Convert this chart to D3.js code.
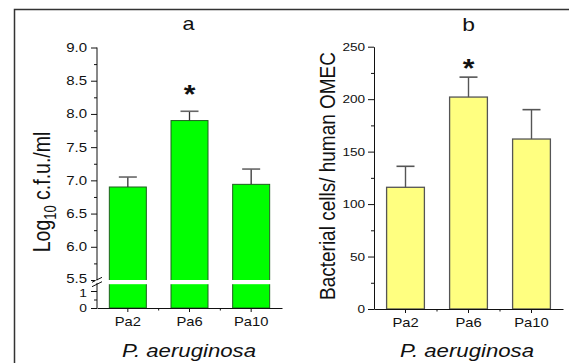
<!DOCTYPE html>
<html><head><meta charset="utf-8">
<script src="https://cdn.jsdelivr.net/npm/d3@7"></script>
<style>
html,body{margin:0;padding:0;background:#fff;}
svg{display:block;font-family:"Liberation Sans",Arial,sans-serif;}
</style></head><body>
<svg id="c" width="569" height="363"></svg>
<script>
const categories = ["Pa2", "Pa6", "Pa10"];
const valuesA = [6.90, 7.90, 6.94];
const errorsA = [0.15, 0.14, 0.23];
const valuesB = [116, 202, 162];
const errorsB = [20, 19, 28];
const significantA = [false, true, false];
const significantB = [false, true, false];
const ticksAUpper = [5.5, 6.0, 6.5, 7.0, 7.5, 8.0, 8.5, 9.0];
const ticksALower = [0, 1];
const ticksB = [0, 50, 100, 150, 200, 250];
const panelTitles = ["a", "b"];
const yTitleB = "Bacterial cells/ human OMEC";
const xTitle = "P. aeruginosa";

const SX = 1.2; // horizontal stretch of the original picture's text
const svg = d3.select("#c");

// frame
svg.append("path").attr("d", "M14.5,363 V9.5 H569").attr("fill", "none")
  .attr("stroke", "#333").attr("stroke-width", 1.5);

function stretchText(sel, fs) {
  sel.each(function () {
    const t = d3.select(this);
    const x = +t.attr("x") || 0;
    t.attr("x", x / SX).attr("transform", `scale(${SX},1)`);
  });
  sel.attr("font-size", fs).attr("font-family", "'Liberation Sans',Arial,sans-serif").attr("fill", "#111");
}
function label(g, x, y, txt, fs, opts = {}) {
  const t = g.append("text").attr("transform", `translate(${x},${y}) scale(${SX},1)` + (opts.rot ? " rotate(-90)" : ""))
    .attr("text-anchor", "middle").attr("font-size", fs).attr("fill", "#111");
  if (opts.italic) t.attr("font-style", "italic");
  if (opts.bold) t.attr("font-weight", "bold");
  t.text(txt);
  return t;
}

// ---------- Panel a ----------
const gA = svg.append("g");
const xA = d3.scaleBand().domain(categories).range([97, 282]).paddingInner(0.4).paddingOuter(0.2);
const yU = d3.scaleLinear().domain([5.5, 9.0]).range([280, 47.5]);
const yL = d3.scaleLinear().domain([0, 1.4]).range([308, 284.2]);
const yA = v => v >= 5.5 ? yU(v) : yL(v);

gA.selectAll("rect.bar").data(categories).join("rect")
  .attr("x", d => xA(d)).attr("width", xA.bandwidth())
  .attr("y", (d, i) => yA(valuesA[i])).attr("height", (d, i) => yA(0) - yA(valuesA[i]))
  .attr("fill", "#00ff00").attr("stroke", "#1f5f1f").attr("stroke-width", 1);

// white break band across bars
gA.append("rect").attr("x", 99).attr("width", 183).attr("y", yU(5.5)).attr("height", yL(1.4) - yU(5.5))
  .attr("fill", "#fff");

// error bars
categories.forEach((c, i) => {
  const cx = xA(c) + xA.bandwidth() / 2;
  const top = yA(valuesA[i] + errorsA[i]);
  gA.append("line").attr("x1", cx).attr("x2", cx).attr("y1", yA(valuesA[i])).attr("y2", top).attr("stroke", "#333").attr("stroke-width", 1.3);
  gA.append("line").attr("x1", cx - 9).attr("x2", cx + 9).attr("y1", top).attr("y2", top).attr("stroke", "#666").attr("stroke-width", 1.6);
  if (significantA[i]) label(gA, cx, top - 8, "*", 25, { bold: true });
});

// y axes (upper and lower segments)
const majA = gA.append("g").attr("transform", "translate(97,0)")
  .call(d3.axisLeft(yU).tickValues(ticksAUpper).tickFormat(d3.format(".1f")).tickSize(6).tickSizeOuter(0));
const minorU = d3.range(5.75, 9.0, 0.5);
gA.append("g").attr("transform", "translate(97,0)")
  .call(d3.axisLeft(yU).tickValues(minorU).tickFormat("").tickSize(3).tickSizeOuter(0))
  .select(".domain").remove();
const lowA = gA.append("g").attr("transform", "translate(97,0)")
  .call(d3.axisLeft(yL).tickValues(ticksALower).tickFormat(d3.format("d")).tickSize(6).tickSizeOuter(0));
gA.append("g").attr("transform", "translate(97,0)")
  .call(d3.axisLeft(yL).tickValues([0.5]).tickFormat("").tickSize(3).tickSizeOuter(0))
  .select(".domain").remove();
majA.selectAll(".domain").remove();
lowA.selectAll(".domain").remove();
stretchText(majA.selectAll("text").attr("x", -10), 12.5);
majA.selectAll(".tick").filter(d => d === 5.5).select("text").attr("dy", "0.22em");
stretchText(lowA.selectAll("text").attr("x", -10), 11.5);
lowA.selectAll(".tick").filter(d => d === 1).select("text").attr("dy", "0.45em");
gA.append("line").attr("x1", 97).attr("x2", 97).attr("y1", yU(9.0)).attr("y2", yL(0)).attr("stroke", "#111");
// break marks
[-2.2, 2.2].forEach(o => {
  gA.append("line").attr("x1", 92).attr("x2", 102).attr("y1", 284.5 + o).attr("y2", 279.5 + o)
    .attr("stroke", "#111").attr("stroke-width", 1);
});
gA.append("rect").attr("x", 95.5).attr("y", 280.3).attr("width", 3).attr("height", 2.6).attr("fill", "#fff");

// x axis
function xAxis(g, xs, y) {
  const ax = g.append("g").attr("transform", `translate(0,${y})`)
    .call(d3.axisBottom(xs).tickSize(4).tickSizeOuter(0).tickPadding(5));
  ax.selectAll(".tick line").attr("stroke", "#111");
  ax.select(".domain").attr("stroke", "#111");
  stretchText(ax.selectAll("text"), 12.3);
  const bounds = xs.domain().slice(1).map(d => xs(d) - xs.step() * xs.paddingInner() / 2);
  bounds.forEach(b => g.append("line").attr("x1", b).attr("x2", b).attr("y1", y).attr("y2", y + 2.5).attr("stroke", "#111"));
  return ax;
}
xAxis(gA, xA, yL(0));
gA.selectAll(".tick line").attr("stroke", "#111");

// titles a
const cxA = xA("Pa6") + xA.bandwidth() / 2;
label(gA, cxA - 1, 30, panelTitles[0], 18);
label(gA, 189, 357, xTitle, 18.5, { italic: true });
const yl = gA.append("text").attr("transform", `translate(50,192) scale(${SX},1) rotate(-90)`)
  .attr("text-anchor", "middle").attr("font-size", 19.5).attr("fill", "#111");
yl.append("tspan").text("Log");
yl.append("tspan").attr("font-size", 13).attr("dy", 5).text("10");
yl.append("tspan").attr("dy", -5).text(" c.f.u./ml");

// ---------- Panel b ----------
const gB = svg.append("g");
const xB = d3.scaleBand().domain(categories).range([374, 563]).paddingInner(0.4).paddingOuter(0.2);
const yB = d3.scaleLinear().domain([0, 250]).range([309, 46.7]);

gB.selectAll("rect.bar").data(categories).join("rect")
  .attr("x", d => xB(d)).attr("width", xB.bandwidth())
  .attr("y", (d, i) => yB(valuesB[i])).attr("height", (d, i) => yB(0) - yB(valuesB[i]))
  .attr("fill", "#ffff80").attr("stroke", "#555").attr("stroke-width", 1.3);

categories.forEach((c, i) => {
  const cx = xB(c) + xB.bandwidth() / 2;
  const top = yB(valuesB[i] + errorsB[i]);
  gB.append("line").attr("x1", cx).attr("x2", cx).attr("y1", yB(valuesB[i])).attr("y2", top).attr("stroke", "#555").attr("stroke-width", 1.4);
  gB.append("line").attr("x1", cx - 9).attr("x2", cx + 9).attr("y1", top).attr("y2", top).attr("stroke", "#555").attr("stroke-width", 1.6);
  if (significantB[i]) label(gB, cx, top - 0.5, "*", 25, { bold: true });
});

const axB = gB.append("g").attr("transform", "translate(374,0)")
  .call(d3.axisLeft(yB).tickValues(ticksB).tickSize(6).tickSizeOuter(0));
axB.select(".domain").attr("stroke", "#111");
axB.selectAll(".tick line").attr("stroke", "#111");
stretchText(axB.selectAll("text").attr("x", -9), 11.3);
gB.append("g").attr("transform", "translate(374,0)")
  .call(d3.axisLeft(yB).tickValues(d3.range(25, 250, 50)).tickFormat("").tickSize(3).tickSizeOuter(0))
  .call(a => { a.select(".domain").remove(); a.selectAll("line").attr("stroke", "#111"); });
xAxis(gB, xB, yB(0));

const cxB = xB("Pa6") + xB.bandwidth() / 2;
label(gB, cxB, 30.5, panelTitles[1], 19);
label(gB, 467, 357, xTitle, 18.5, { italic: true });
gB.append("text").attr("transform", `translate(335,176) scale(${SX},1) rotate(-90)`)
  .attr("text-anchor", "middle").attr("font-size", 19).attr("fill", "#111").text(yTitleB);
</script></body></html>
